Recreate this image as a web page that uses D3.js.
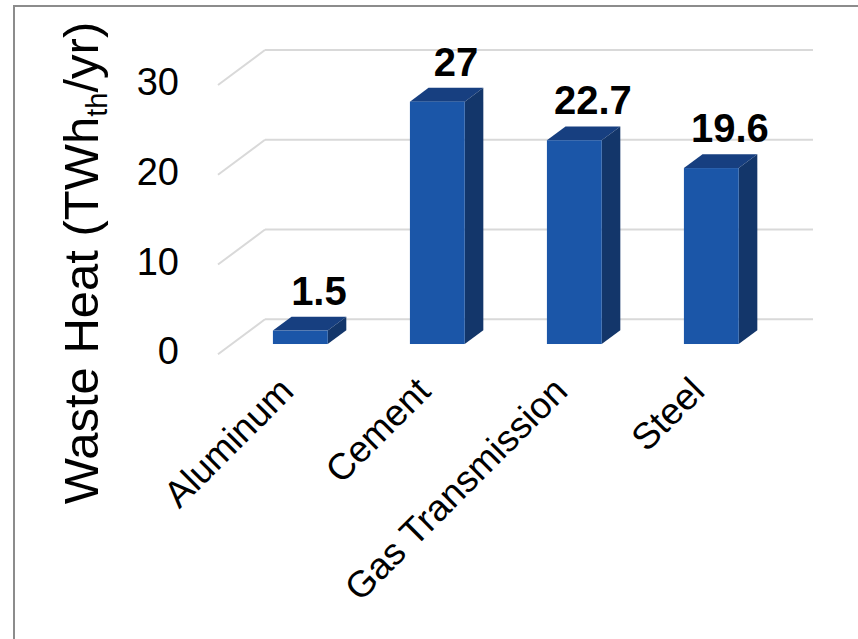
<!DOCTYPE html>
<html>
<head>
<meta charset="utf-8">
<script src="https://cdn.jsdelivr.net/npm/d3@7"></script>
<style>
  body { margin: 0; background: #fff; }
  svg { display: block; font-family: "Liberation Sans", Arial, sans-serif; }
</style>
</head>
<body>
<div class="chart"></div>
<script>
// data
const categories = ["Aluminum", "Cement", "Gas Transmission", "Steel"];
const values = [1.5, 27, 22.7, 19.6];
const valueLabels = ["1.5", "27", "22.7", "19.6"];
const yTicks = [0, 10, 20, 30];

const width = 858, height = 639;

const svg = d3.select(".chart")
    .append("svg")
    .attr("width", width)
    .attr("height", height);

// outer frame (runs off right and bottom)
svg.append("rect")
    .attr("x", 14).attr("y", 6)
    .attr("width", 900).attr("height", 700)
    .attr("fill", "none")
    .attr("stroke", "#8c8c8c")
    .attr("stroke-width", 2);

// back wall scales
const xScale = d3.scaleBand()
    .domain(categories)
    .range([265, 813])
    .paddingInner(0.6)
    .paddingOuter(0.3);

const yScale = d3.scaleLinear()
    .domain([0, 30])
    .range([319.3, 50]);

// oblique depth: 0 = back wall, 1 = front edge of floor
const depthX = -47, depthY = 35;
const proj = (x, y, d) => [x + depthX * d, y + depthY * d];
const barBack = 0.31, barFront = 0.706;

// gridlines: back wall + left side wall diagonal
const grid = svg.append("g").attr("class", "grid");
yTicks.forEach(t => {
    const y = yScale(t);
    grid.append("line")
        .attr("x1", 265).attr("x2", 813)
        .attr("y1", y).attr("y2", y)
        .attr("stroke", "#d9d9d9").attr("stroke-width", 2);
    const f = proj(265, y, 1);
    grid.append("line")
        .attr("x1", 265).attr("y1", y)
        .attr("x2", f[0]).attr("y2", f[1])
        .attr("stroke", "#d9d9d9").attr("stroke-width", 2);
});

// y tick labels at front end of diagonals
svg.append("g").selectAll("text")
    .data(yTicks)
    .join("text")
    .attr("x", 179)
    .attr("y", d => proj(265, yScale(d), 1)[1] - 3)
    .attr("text-anchor", "end")
    .attr("dominant-baseline", "central")
    .attr("font-size", 38)
    .attr("fill", "#000")
    .text(d => d);

// bars
const bars = svg.append("g").attr("class", "bars");
categories.forEach((c, i) => {
    const x0 = xScale(c), x1 = x0 + xScale.bandwidth();
    const yt = yScale(values[i]), yb = yScale(0);
    const p = (x, y, d) => proj(x, y, d).join(",");

    // top face
    bars.append("polygon")
        .attr("points", [p(x0, yt, barFront), p(x1, yt, barFront), p(x1, yt, barBack), p(x0, yt, barBack)].join(" "))
        .attr("fill", "#173f80");
    // side face
    bars.append("polygon")
        .attr("points", [p(x1, yt, barFront), p(x1, yb, barFront), p(x1, yb, barBack), p(x1, yt, barBack)].join(" "))
        .attr("fill", "#13366a");
    // front face
    const a = proj(x0, yt, barFront), b = proj(x1, yb, barFront);
    bars.append("rect")
        .attr("x", a[0]).attr("y", a[1])
        .attr("width", b[0] - a[0]).attr("height", b[1] - a[1])
        .attr("fill", "#1b56a8");

    // value label above back edge of top
    const lp = proj((x0 + x1) / 2, yt, barBack);
    svg.append("text")
        .attr("x", lp[0]).attr("y", lp[1] - 12)
        .attr("text-anchor", "middle")
        .attr("font-size", 40)
        .attr("font-weight", "bold")
        .attr("fill", "#000")
        .text(valueLabels[i]);
});

// category labels, rotated
svg.append("g").selectAll("text")
    .data(categories)
    .join("text")
    .attr("transform", d => {
        const pt = proj(xScale(d) + xScale.bandwidth() / 2, yScale(0), 1);
        return `translate(${pt[0] + 9},${pt[1] + 39}) rotate(-45)`;
    })
    .attr("text-anchor", "end")
    .attr("font-size", 37)
    .attr("fill", "#000")
    .text(d => d);

// y axis title
const title = svg.append("text")
    .attr("transform", "translate(98,263) rotate(-90)")
    .attr("text-anchor", "middle")
    .attr("font-size", 49)
    .attr("fill", "#000");
title.append("tspan").text("Waste Heat (TWh");
title.append("tspan").attr("font-size", 29).attr("dy", 9).text("th");
title.append("tspan").attr("dy", -9).text("/yr)");
</script>
</body>
</html>
